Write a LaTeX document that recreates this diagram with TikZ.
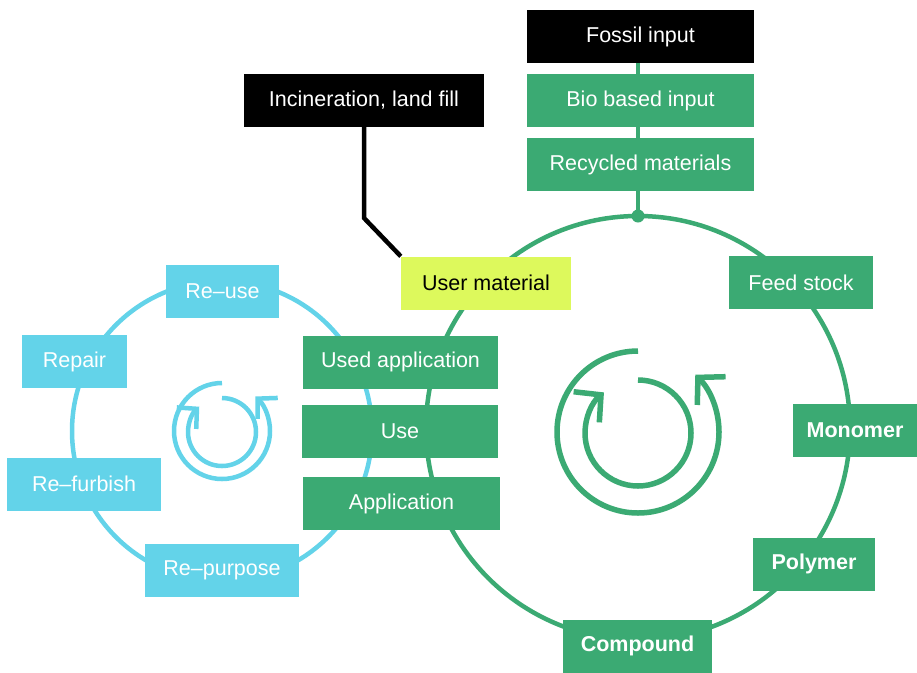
\documentclass[tikz,border=0pt]{standalone}
\usepackage{fontspec}
\setmainfont{Liberation Sans}
\usetikzlibrary{arrows.meta, backgrounds, positioning}

\definecolor{loopgreen}{HTML}{3BAA73}
\definecolor{loopblue}{HTML}{63D3E9}
\definecolor{usergreen}{HTML}{DDF95C}

\begin{document}
\begin{tikzpicture}[x=1pt, y=-1pt,
		box/.style={minimum height=53, inner sep=0pt, text=white, font=\fontsize{21.5}{25}\selectfont},
		gbox/.style={box, fill=loopgreen},
		bbox/.style={box, fill=loopblue},
		kbox/.style={box, fill=black},
		heavy/.style={font=\fontsize{21.5}{25}\selectfont\bfseries},
		ring/.style={line width=4.5pt},
		gturn/.style={loopgreen, line width=5.5pt, -{Straight Barb[length=19pt,width=40pt]}},
		bturn/.style={loopblue, line width=4.5pt, -{Straight Barb[length=14pt,width=29pt]}}]
		
		\node[kbox, minimum width=227] (fossil) at (640.5,36.5) {Fossil input};
		\node[gbox, minimum width=227] (bio) at (640.5,100.5) {Bio based input};
		\node[gbox, minimum width=227] (recycled) at (640.5,164.5) {Recycled materials};
		\node[kbox, minimum width=240] (incin) at (364,100.5) {Incineration, land fill};
		\node[box, fill=usergreen, text=black, minimum width=170] (user) at (486,283) {User material};
		
		\node[gbox, minimum width=144] (feed) at (801,282.5) {Feed stock};
		\node[gbox, heavy, minimum width=124] (monomer) at (855,430.5) {Monomer};
		\node[gbox, heavy, minimum width=122] (polymer) at (814,564) {Polymer};
		\node[gbox, heavy, minimum width=149] (compound) at (637.5,646) {Compound};
		
		\node[gbox, minimum width=195] (usedapp) at (400.5,362) {Used application};
		\node[gbox, minimum width=196] (use) at (400,431) {Use};
		\node[gbox, minimum width=197] (app) at (401.5,503.5) {Application};
		
		\node[bbox, minimum width=113] (reuse) at (222.5,291) {Re--use};
		\node[bbox, minimum width=105] (repair) at (74.5,361.5) {Repair};
		\node[bbox, minimum width=154] (refurb) at (84,484) {Re--furbish};
		\node[bbox, minimum width=154] (repurpose) at (222,570.5) {Re--purpose};
		
		\coordinate (top) at (638,216);
		\coordinate (bend) at (364,218);
		
		\begin{scope}[on background layer]
			\fill[white] (0,0) rectangle (917,672);
			\draw[loopgreen, ring] (638,428) circle (212);
			\draw[loopblue, ring] (222,431) circle (150);
			\draw[loopgreen, ring] (top) -- (top |- fossil.center);
			\fill[loopgreen] (top) circle (6.5);
			\draw[ring, black] (incin.center) -- (bend) -- (user.north west);
		\end{scope}
		
		\draw[gturn] (638,351) arc[start angle=270, end angle=-45, radius=81];
		\draw[gturn] (638,380) arc[start angle=270, end angle=590, radius=53];
		
		\draw[bturn] (222,383) arc[start angle=270, end angle=-46, radius=48];
		\draw[bturn] (222,398) arc[start angle=270, end angle=588, radius=34];

	\end{tikzpicture}
\end{document}
